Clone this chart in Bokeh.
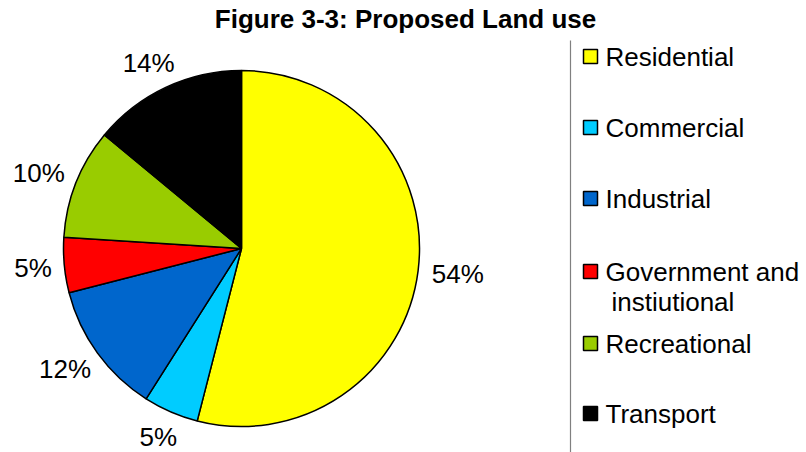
import numpy as np
from bokeh.plotting import figure
from bokeh.models import Range1d, ColumnDataSource
from bokeh.core.properties import value
from bokeh.embed import file_html
from bokeh.resources import INLINE

categories = ["Residential", "Commercial", "Industrial", "Government and\ninstiutional", "Recreational", "Transport"]
shares = [54, 5, 12, 5, 10, 14]
colors = ["#FFFF00", "#00CCFF", "#0066CC", "#FF0000", "#99CC00", "#000000"]
title = "Figure 3-3: Proposed Land use"

W, H = 806, 452
FONT = "Liberation Sans"

p = figure(width=W, height=H, output_backend="svg", toolbar_location=None,
           x_range=Range1d(0, W), y_range=Range1d(0, H), min_border=0)
p.axis.visible = False
p.grid.visible = False
p.outline_line_color = None

cx, cy, r = 241, H - 248, 178
vals = np.array(shares, dtype=float)
frac = vals / vals.sum()
cum_end = np.cumsum(frac)
cum_start = cum_end - frac
start = np.pi / 2 - cum_start * 2 * np.pi
end = np.pi / 2 - cum_end * 2 * np.pi
src = ColumnDataSource(dict(start=start, end=end, color=colors))
p.wedge(x=cx, y=cy, radius=r, start_angle="start", end_angle="end", direction="clock",
        fill_color="color", line_color="black", line_width=1.5, source=src)

# labels
mid = np.pi / 2 - (cum_start + frac / 2) * 2 * np.pi
dx, dy = np.cos(mid), np.sin(mid)
g = 14
lw = np.array([len(f"{v}%") for v in shares]) * 14.0
lx = cx + (r + g) * dx + dx * lw * 0.62
ly = cy + (r + g) * dy + dy * 13
p.text(x=lx, y=ly, text=[f"{v}%" for v in shares], text_align="center", text_baseline="middle",
       text_font=value(FONT), text_font_size="26px", text_color="#000000")

# title
p.text(x=[405], y=[H - 18], text=[title], text_align="center", text_baseline="middle",
       text_font=value(FONT), text_font_size="26px", text_font_style="bold", text_color="#000000")

# legend
p.line(x=[570, 570], y=[H - 40, 0], line_color="#808080", line_width=1.2)
leg_y = [56, 127, 198, 271, 343, 413]
ys = [H - v for v in leg_y]
p.scatter(x=[590] * len(categories), y=ys, marker="square", size=14, fill_color=colors,
          line_color="black", line_width=1.5)
for name, yy in zip(categories, ys):
    lines = name.split("\n")
    for k, ln in enumerate(lines):
        p.text(x=[605 + (6 if k > 0 else 0)], y=[yy - 30 * k], text=[ln], text_align="left",
               text_baseline="middle", text_font=value(FONT), text_font_size="26px",
               text_color="#000000")

open("out.html", "w").write(file_html(p, INLINE))
